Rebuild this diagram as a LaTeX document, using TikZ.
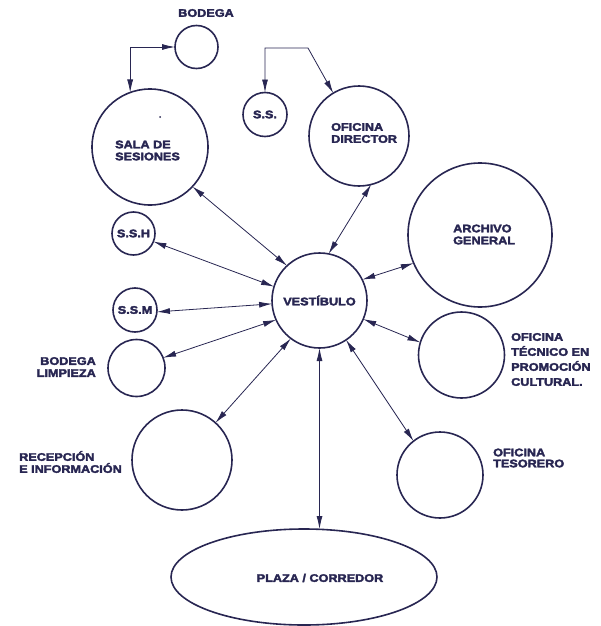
\documentclass[tikz,border=0pt]{standalone}
\usepackage{fontspec}
\setmainfont{Liberation Sans}[FakeStretch=1.15,BoldFeatures={FakeBold=3}]
\usetikzlibrary{arrows.meta,shapes.geometric}
\definecolor{ink}{RGB}{40,38,82}
\begin{document}
\begin{tikzpicture}[x=1pt,y=-1pt,
  room/.style={draw=ink,line width=1.6pt,circle,inner sep=0pt,outer sep=0pt,minimum size=#1,
    text=ink,font=\bfseries\fontsize{11}{12}\selectfont},
  lbl/.style={text=ink,font=\bfseries\fontsize{11}{12}\selectfont,inner sep=0pt},
  link/.style={draw=ink,line width=0.8pt,{Latex[length=13pt,width=6pt]}-{Latex[length=13pt,width=6pt]}}]
\useasboundingbox (0,0) rectangle (600,626);

% rooms
\node[room=43pt] (bodega) at (196.5,47) {};
\node[room=116pt] (sala) at (150,147) {};
\node[room=44pt] (ss) at (265,114.5) {S.S.};
\node[room=100pt] (director) at (359,136) {};
\node[room=43pt] (ssh) at (133.5,233.5) {S.S.H};
\node[room=44pt] (ssm) at (135,310) {S.S.M};
\node[room=57pt] (limpieza) at (136.5,368) {};
\node[room=95pt] (vest) at (319.5,300.5) {VEST\'IBULO};
\node[room=144pt] (archivo) at (480,235) {};
\node[room=86pt] (tecnico) at (461.5,355) {};
\node[room=86pt] (tesorero) at (440,475) {};
\node[room=100pt] (recepcion) at (182,460) {};
\node[draw=ink,line width=1.6pt,ellipse,inner sep=0pt,outer sep=0pt,minimum width=266pt,minimum height=96pt] (plaza) at (304,577) {};

% labels
\node[lbl] (tbodega) at (206,13) {BODEGA};
\node[lbl,anchor=west,align=left] (tsala) at (115,150.5) {SALA DE\\SESIONES};
\node[lbl,anchor=west,align=left] (tdirector) at (331,133) {OFICINA\\DIRECTOR};
\node[lbl,anchor=west,align=left] (tarchivo) at (453,234.5) {ARCHIVO\\GENERAL};
\node[lbl,anchor=west,align=left,font=\bfseries\fontsize{11}{15}\selectfont] (ttecnico) at (511,359.5) {OFICINA\\T\'ECNICO EN\\PROMOCI\'ON\\CULTURAL.};
\node[lbl,anchor=west,align=left,font=\bfseries\fontsize{11}{11}\selectfont] (ttesorero) at (493,458) {OFICINA\\TESORERO};
\node[lbl,anchor=east,align=right] (tlimpieza) at (96,367) {BODEGA\\LIMPIEZA};
\node[lbl,anchor=west,align=left] (trecepcion) at (19,462) {RECEPCI\'ON\\E INFORMACI\'ON};
\node[lbl] (tplaza) at (320,578) {PLAZA / CORREDOR};
\fill[ink] (sala.center) ++(10,-30) circle (1pt);

% connectors
\draw[link] (bodega.west) -| (sala.110);
\coordinate (bend) at (308,48);
\draw[link] (ss.north) |- (bend) -- (director.121);
\draw[link] (sala.-43) -- (vest.133);
\draw[link] (director.-76) -- (vest.79);
\draw[link] (ssh.-22) -- (vest.163);
\draw[link] (ssm.-5) -- (vest.184);
\draw[link] (limpieza.21) -- (vest.204);
\draw[link] (recepcion.48) -- (vest.233);
\draw[link] (vest.south) -- (vest.south |- plaza.north);
\draw[link] (tesorero.128) -- (vest.-56.5);
\draw[link] (tecnico.163) -- (vest.-23);
\draw[link] (archivo.203) -- (vest.26);
\end{tikzpicture}
\end{document}
